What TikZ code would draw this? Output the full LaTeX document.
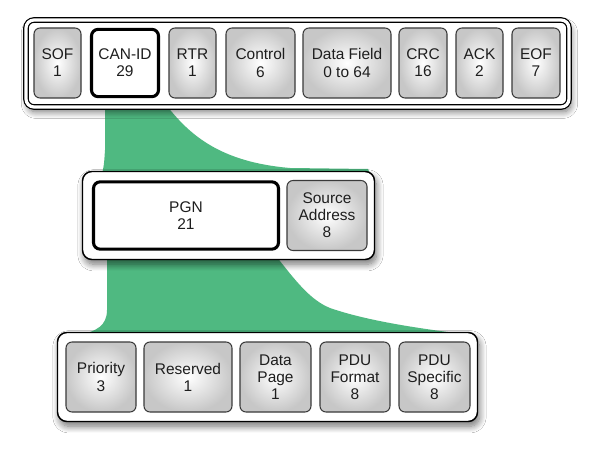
\documentclass[tikz,border=0pt]{standalone}
\usepackage{fontspec}
\setmainfont{Liberation Sans}
\usetikzlibrary{fit, shadows.blur, backgrounds}
\definecolor{cgreen}{HTML}{4FB981}
\definecolor{cedge}{HTML}{3A3A3A}
\definecolor{ctext}{HTML}{1E1E1E}
\tikzset{
  every picture/.style={font=\fontsize{11.6}{12.8}\selectfont, text=ctext},
  frame/.style={draw=black, fill=white, rounded corners=6pt, line width=1.1pt, inner sep=0pt,
    blur shadow={shadow xshift=1.5pt, shadow yshift=-3.6pt, shadow blur steps=12, shadow opacity=55, shadow blur radius=5pt}},
  field/.style={draw=cedge, line width=0.8pt, rounded corners=4.5pt, inner color=white, outer color=black!22,
    align=center, inner sep=0pt, minimum height=52.5pt},
  keyfield/.style={draw=black, line width=2.3pt, rounded corners=5pt, fill=white, align=center, inner sep=0pt,
    minimum height=50.5pt},
  flow/.style={fill=cgreen},
}
\begin{document}
\begin{tikzpicture}[x=0.75pt, y=-0.75pt]
  % \slot{style}{name}{left}{right}{middle y}{text}
  \newcommand{\slot}[6]{\node[#1, minimum width={(#4-#3)*0.75pt}] (#2) at ({(#3+#4)/2},#5) {#6};}
  \useasboundingbox (0,0) rectangle (596,452);
  % CAN frame
  \slot{field}{sof}{34}{81}{63}{SOF\\1}
  \slot{keyfield}{canid}{91.5}{158.5}{63}{CAN-ID\\29}
  \slot{field}{rtr}{169}{216}{63}{RTR\\1}
  \slot{field}{control}{226}{295}{63}{Control\\6}
  \slot{field}{data}{303}{391}{63}{Data Field\\0 to 64}
  \slot{field}{crc}{399}{447}{63}{CRC\\16}
  \slot{field}{ack}{456}{503}{63}{ACK\\2}
  \slot{field}{eof}{512}{560}{63}{EOF\\7}
  % CAN-ID split
  \slot{keyfield}{pgn}{93.5}{278.5}{215.5}{PGN\\21}
  \slot{field}{srcaddr}{287}{367}{215.5}{Source\\Address\\8}
  % PGN split
  \slot{field}{priority}{66}{136}{377}{Priority\\3}
  \slot{field}{reserved}{144}{232}{377}{Reserved\\1}
  \slot{field}{datapage}{240}{311}{377}{Data\\Page\\1}
  \slot{field}{pduformat}{320}{390}{377}{PDU\\Format\\8}
  \slot{field}{pduspecific}{399}{470}{377}{PDU\\Specific\\8}
  \begin{scope}[on background layer]
    \fill[white] (0,0) rectangle (596,452);
    \fill[flow] (105,106) -- (105,150) .. controls (104,165) .. (102,174) -- (370,174) -- (368,169)
      -- (290,168) .. controls (220,162) and (190,135) .. (167,106) -- cycle;
    \fill[flow] (107,256) -- (107,310) .. controls (107,326) and (96,331) .. (80,335) -- (472,335)
      .. controls (430,330) and (370,322) .. (330,308) .. controls (310,300) and (295,280) .. (276,256) -- cycle;
    \node[frame, double=white, double distance=2.4pt, line width=0.9pt, fit={(26,20) (569,107)}] (canframe) {};
    \node[frame, rounded corners=7pt, fit={(82.5,171.5) (374.5,259.5)}] (idframe) {};
    \node[frame, rounded corners=7pt, fit={(57.5,332.5) (477.5,421.5)}] (pgnframe) {};
  \end{scope}
\end{tikzpicture}
\end{document}
